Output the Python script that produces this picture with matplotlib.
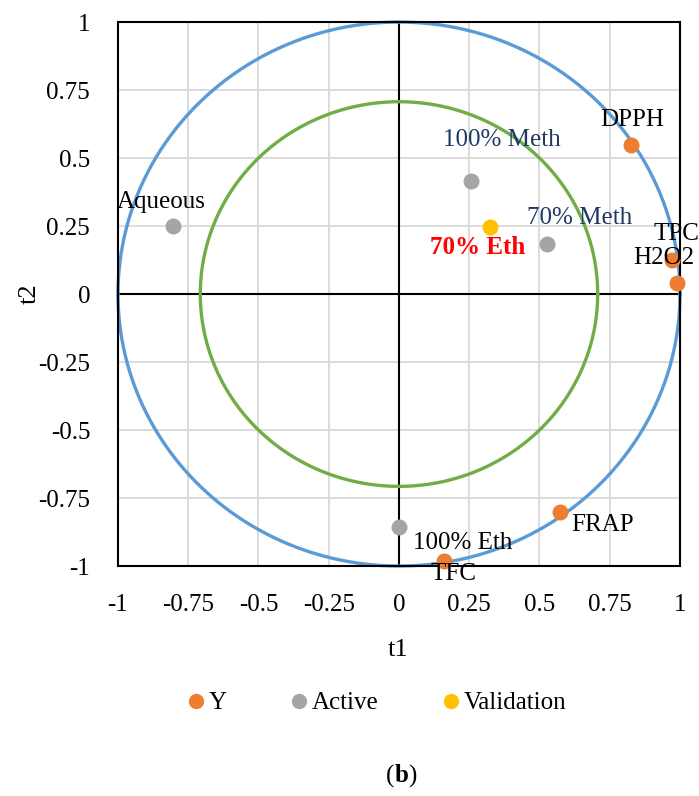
import numpy as np
import matplotlib.pyplot as plt
from matplotlib.lines import Line2D

plt.rcParams['font.family'] = ['Liberation Serif', 'DejaVu Serif']

# Переменные отклика (Y)
y_names = ["DPPH", "TPC", "H2O2", "FRAP", "TFC"]
y_t1 = [0.826, 0.971, 0.989, 0.573, 0.16]
y_t2 = [0.548, 0.125, 0.04, -0.80, -0.98]

# Активные экстракты
act_names = ["Aqueous", "100% Meth", "70% Meth", "100% Eth"]
act_t1 = [-0.804, 0.256, 0.527, 0.0]
act_t2 = [0.25, 0.415, 0.184, -0.857]

# Валидационный экстракт
val_names = ["70% Eth"]
val_t1 = [0.324]
val_t2 = [0.246]

ticks = [-1, -0.75, -0.5, -0.25, 0, 0.25, 0.5, 0.75, 1]
tick_labels = ["-1", "-0.75", "-0.5", "-0.25", "0", "0.25", "0.5", "0.75", "1"]

c_blue = "#5B9BD5"
c_green = "#70AD47"
c_orange = "#ED7D31"
c_gray = "#A5A5A5"
c_yellow = "#FFC000"
c_navy = "#1F3864"
fs = 18

fig = plt.figure(figsize=(6.99, 7.96), dpi=100)
ax = fig.add_axes([0.1688, 0.2889, 0.804, 0.6834])
ax.set_axisbelow(True)

ax.set_xlim(-1, 1)
ax.set_ylim(-1, 1)
ax.set_xticks(ticks)
ax.set_xticklabels(tick_labels)
ax.set_yticks(ticks)
ax.set_yticklabels(tick_labels)
ax.tick_params(length=0, labelsize=fs)
ax.tick_params(axis='x', pad=20)
ax.tick_params(axis='y', pad=20)
ax.grid(True, color="#D9D9D9", linewidth=1.3)
for s in ax.spines.values():
    s.set_linewidth(1.5)
    s.set_color("black")
ax.axhline(0, color="black", lw=1.5, zorder=1)
ax.axvline(0, color="black", lw=1.5, zorder=1)

# Окружности корреляции (r = 1 и r = 0.707)
th = np.linspace(0, 2 * np.pi, 400)
ax.plot(np.cos(th), np.sin(th), color=c_blue, lw=2.4, zorder=2, clip_on=False)
r2 = np.sqrt(0.5)
ax.plot(r2 * np.cos(th), r2 * np.sin(th), color=c_green, lw=2.4, zorder=2)

ax.scatter(y_t1, y_t2, s=110, color=c_orange, zorder=4, clip_on=False)
ax.scatter(act_t1, act_t2, s=110, color=c_gray, zorder=4)
ax.scatter(val_t1, val_t2, s=110, color=c_yellow, zorder=4)

# Подписи точек (смещения в пикселях)
y_off = [(1, 25), (5, 26), (-13, 25), (43, -13), (10, -13)]
for n, x, y, o in zip(y_names, y_t1, y_t2, y_off):
    ax.annotate(n, (x, y), xytext=o, textcoords="offset pixels",
                ha="center", va="center", fontsize=fs, color="black", zorder=5)

act_off = [(-12, 24), (31, 41), (33, 26), (64, -16)]
act_col = ["black", c_navy, c_navy, "black"]
for n, x, y, o, c in zip(act_names, act_t1, act_t2, act_off, act_col):
    ax.annotate(n, (x, y), xytext=o, textcoords="offset pixels",
                ha="center", va="center", fontsize=fs, color=c, zorder=5)

for n, x, y in zip(val_names, val_t1, val_t2):
    ax.annotate(n, (x, y), xytext=(-12, -20), textcoords="offset pixels",
                ha="center", va="center", fontsize=fs, color="red",
                fontweight="bold", zorder=5)

fig.text(398 / 699, 1 - 650 / 796, "t1", ha="center", va="center", fontsize=fs + 1)
fig.text(30 / 699, 1 - 294 / 796, "t2", ha="center", va="center", fontsize=fs + 1,
         rotation=90)

handles = [
    Line2D([], [], ls="", marker="o", ms=10, color=c_orange),
    Line2D([], [], ls="", marker="o", ms=10, color=c_gray),
    Line2D([], [], ls="", marker="o", ms=10, color=c_yellow),
]
fig.legend(handles, ["Y", "Active", "Validation"], loc="center",
           bbox_to_anchor=(0.54, 1 - 703 / 796), ncol=3, frameon=False,
           fontsize=fs, handlelength=0.6, handletextpad=0.2, columnspacing=2.6)

# Подпись панели "(b)" с жирной буквой
yb = 1 - 776 / 796
p1 = fig.text(386 / 699, yb, "(", ha="left", va="center", fontsize=fs)
p2 = fig.text(0, yb, "b", fontsize=fs, fontweight="bold", ha="left", va="center")
p3 = fig.text(0, yb, ")", fontsize=fs, ha="left", va="center")
fig.canvas.draw()
r = fig.canvas.get_renderer()
inv = fig.transFigure.inverted()
bb = p1.get_window_extent(r)
p2.set_x(inv.transform((bb.x1, bb.y0))[0])
bb = p2.get_window_extent(r)
p3.set_x(inv.transform((bb.x1, bb.y0))[0])

fig.savefig("out.png", dpi=100)
